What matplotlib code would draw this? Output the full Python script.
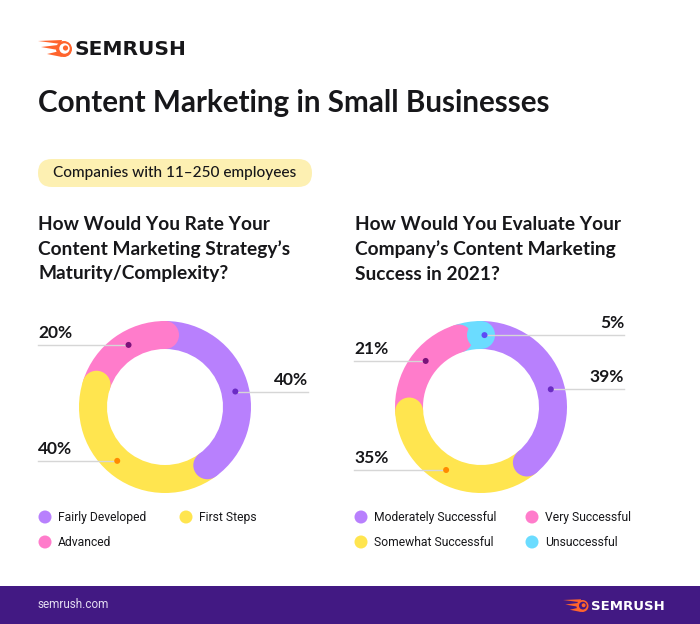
"""
Semrush infographic: content marketing in small businesses (two donut charts).
Saves out.png at 700x624.
"""

import numpy as np
import matplotlib.pyplot as plt
from matplotlib.patches import Wedge, Circle, FancyBboxPatch, Rectangle, Polygon

# ----- Data -----
left_labels = ["Fairly Developed", "First Steps", "Advanced"]
left_values = [40, 40, 20]

right_labels = ["Moderately Successful", "Somewhat Successful", "Very Successful", "Unsuccessful"]
right_values = [39, 35, 21, 5]

# Colors
PURPLE = "#B880FD"
YELLOW = "#FFE54F"
PINK = "#FF7CCB"
BLUE = "#6BDCFF"
DOT_COLORS = {PURPLE: "#6B2BC4", YELLOW: "#FF8A00", PINK: "#7B127A", BLUE: "#5D4BF5"}
TEXT = "#17171A"
FOOTER = "#421983"
ORANGE = "#FF642D"

left_colors = [PURPLE, YELLOW, PINK]
right_colors = [PURPLE, YELLOW, PINK, BLUE]

HEAD_FONT = "Lato"
BODY_FONT = "Roboto"

fig = plt.figure(figsize=(7, 6.24), dpi=100)
ax = fig.add_axes([0, 0, 1, 1])
ax.set_xlim(0, 700)
ax.set_ylim(624, 0)
ax.set_aspect("equal")
ax.axis("off")

R_OUT, R_IN = 86, 58
R_MID = (R_OUT + R_IN) / 2
CAP = (R_OUT - R_IN) / 2


def logo(x, y, scale, text_color, fs):
    # flame icon: three streaks and a ring
    s = scale
    cx, cy = x + 26 * s, y + 8 * s
    streaks = [
        [(x, y), (cx - 2 * s, y - 1 * s), (cx - 3 * s, y + 3 * s)],
        [(x + 3 * s, y + 6 * s), (cx - 6 * s, y + 4 * s), (cx - 6 * s, y + 9 * s)],
        [(x + 9 * s, y + 13 * s), (cx - 4 * s, y + 10 * s), (cx - 2 * s, y + 16 * s)],
    ]
    for pts in streaks:
        ax.add_patch(Polygon(pts, closed=True, color=ORANGE, lw=0))
    ax.add_patch(Circle((cx, cy), 8 * s, color=ORANGE, lw=0))
    hole = "white" if text_color != "white" else FOOTER
    ax.add_patch(Circle((cx + 0.5 * s, cy - 0.5 * s), 5.2 * s, color=hole, lw=0))
    ax.add_patch(Circle((cx + 1.5 * s, cy - 1 * s), 2.6 * s, color=ORANGE, lw=0))
    ax.text(cx + 11 * s, cy + 0.5, "SEMRUSH", fontsize=fs, fontweight="bold",
            family="DejaVu Sans", color=text_color, va="center", ha="left")


def donut(cx, cy, values, colors, label_left_x, label_right_x):
    total = sum(values)
    bounds = np.cumsum([0] + list(values)) / total * 360  # clockwise from top
    # wedges (y axis is inverted, so data angle = screen angle - 90)
    for i, c in enumerate(colors):
        ax.add_patch(Wedge((cx, cy), R_OUT, bounds[i] - 90, bounds[i + 1] - 90,
                           width=R_OUT - R_IN, color=c, lw=0))
    # rounded end caps on top of the next segment
    for i, c in enumerate(colors):
        a = np.radians(bounds[i + 1] - 90)
        ax.add_patch(Circle((cx + R_MID * np.cos(a), cy + R_MID * np.sin(a)), CAP, color=c, lw=0))
    # label dots, leader lines, percentages
    cap_deg = np.degrees(CAP / R_MID)
    for i, c in enumerate(colors):
        ang = (bounds[i] + bounds[i + 1]) / 2 + cap_deg / 2
        if values[i] < 10:
            ang = bounds[i + 1] + cap_deg / 4
        a = np.radians(ang - 90)
        dx, dy = cx + R_MID * np.cos(a), cy + R_MID * np.sin(a)
        if dx < cx:
            ax.plot([label_left_x, dx], [dy, dy], color="#D6D6D6", lw=1, zorder=3)
            ax.text(label_left_x, dy - 7, f"{values[i]}%", fontsize=12.5, fontweight="bold",
                    family=HEAD_FONT, color=TEXT, ha="left", va="baseline")
        else:
            ax.plot([dx, label_right_x], [dy, dy], color="#D6D6D6", lw=1, zorder=3)
            ax.text(label_right_x, dy - 7, f"{values[i]}%", fontsize=12.5, fontweight="bold",
                    family=HEAD_FONT, color=TEXT, ha="right", va="baseline")
        ax.add_patch(Circle((dx, dy), 3, color=DOT_COLORS[c], lw=0, zorder=4))


def legend(items, x_cols, y_rows):
    for k, (lab, c) in enumerate(items):
        x = x_cols[k % 2]
        y = y_rows[k // 2]
        ax.add_patch(Circle((x, y), 6.5, color=c, lw=0))
        ax.text(x + 13, y, lab, fontsize=8.7, family=BODY_FONT, color=TEXT,
                ha="left", va="center")


# ----- Header -----
logo(38, 41, 1.0, TEXT, 14.5)
ax.text(38, 112, "Content Marketing in Small Businesses", fontsize=21.3,
        fontweight="bold", family=HEAD_FONT, color=TEXT, ha="left", va="baseline")

ax.add_patch(FancyBboxPatch((38, 159), 274, 28, boxstyle="round,pad=0,rounding_size=14",
                            color="#FDF0B2", lw=0))
ax.text(175, 173.5, "Companies with 11\u2013250 employees", fontsize=11.1,
        family=HEAD_FONT, fontweight="medium", color=TEXT, ha="center", va="center")

left_q = ["How Would You Rate Your", "Content Marketing Strategy\u2019s", "Maturity/Complexity?"]
right_q = ["How Would You Evaluate Your", "Company\u2019s Content Marketing", "Success in 2021?"]
for j, line in enumerate(left_q):
    ax.text(38, 230.5 + 24.5 * j, line, fontsize=13.8, fontweight="bold",
            family=HEAD_FONT, color=TEXT, ha="left", va="baseline")
for j, line in enumerate(right_q):
    ax.text(355, 230.5 + 24.5 * j, line, fontsize=13.8, fontweight="bold",
            family=HEAD_FONT, color=TEXT, ha="left", va="baseline")

# ----- Donuts -----
donut(165, 407, left_values, left_colors, 38, 308)
donut(481, 407, right_values, right_colors, 354, 624)

# ----- Legends -----
legend([(left_labels[0], PURPLE), (left_labels[1], YELLOW), (left_labels[2], PINK)],
       [45, 186], [517, 542])
legend([(right_labels[0], PURPLE), (right_labels[2], PINK),
        (right_labels[1], YELLOW), (right_labels[3], BLUE)],
       [361, 532], [517, 542])

# ----- Footer -----
ax.add_patch(Rectangle((0, 586), 700, 38, color=FOOTER, lw=0))
ax.text(38, 605, "semrush.com", fontsize=8.5, family=BODY_FONT, color="#E4DDF2",
        ha="left", va="center")
logo(563, 600, 0.75, "white", 9.5)

plt.savefig("out.png", dpi=100)
print("Saved out.png")
